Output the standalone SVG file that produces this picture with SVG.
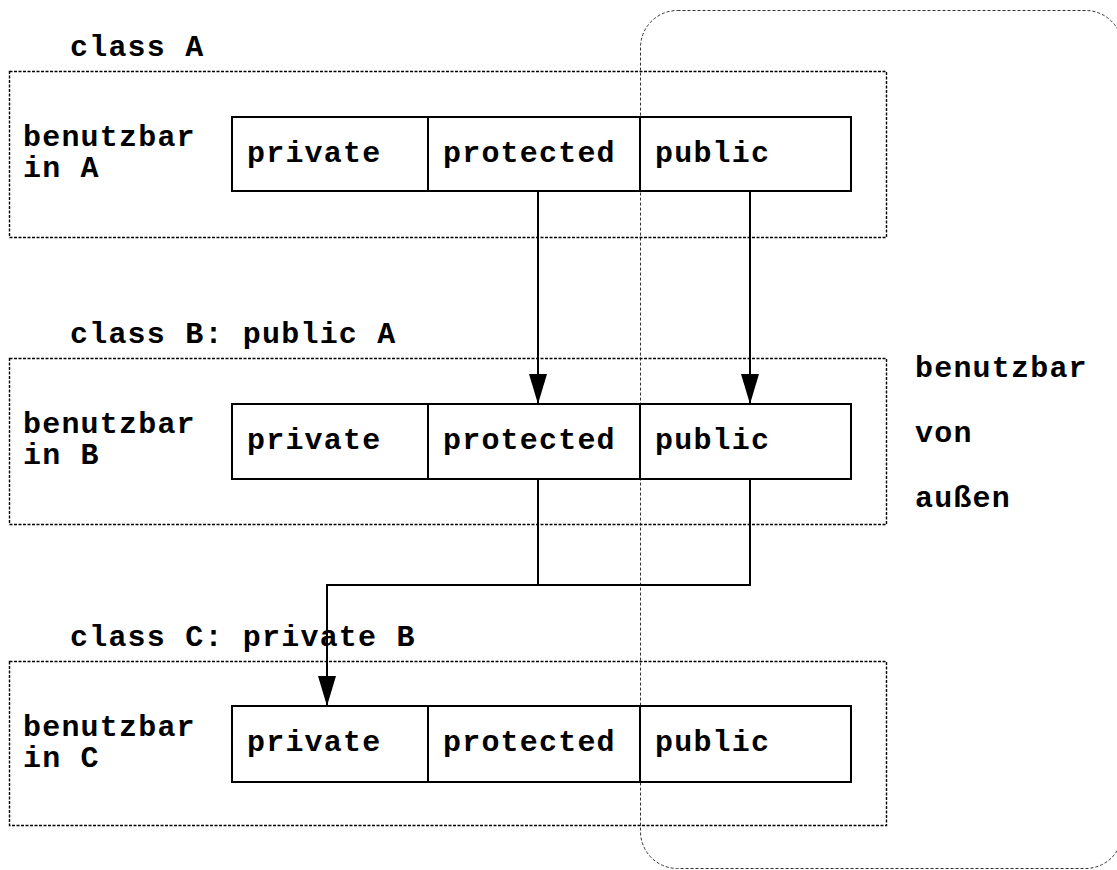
<svg xmlns="http://www.w3.org/2000/svg" width="1117" height="870" viewBox="0 0 1117 870">
  <style>
    text { font-family: "Liberation Mono", "Courier New", monospace; font-weight: bold; font-size: 30px; letter-spacing: 1.2px; fill: #000; }
    .scope { fill: none; stroke: #000; stroke-width: 1.4; stroke-dasharray: 3 1.5; }
    .outside { fill: none; stroke: #333; stroke-width: 1; stroke-dasharray: 3 2; }
    .cell { fill: none; stroke: #000; stroke-width: 2; }
    .wire { fill: none; stroke: #000; stroke-width: 2; }
  </style>
  <defs>
    <marker id="arrow" markerUnits="userSpaceOnUse" markerWidth="30" markerHeight="18" viewBox="0 0 30 18" refX="30" refY="9" orient="auto">
      <path d="M0,0 L30,9 L0,18 Z" fill="#000"/>
    </marker>
  </defs>

  <!-- region usable from outside -->
  <g id="outside">
    <rect class="outside" x="640.5" y="10.5" width="482" height="858" rx="37"/>
    <text x="915" y="377">benutzbar</text>
    <text x="915" y="442">von</text>
    <text x="915" y="507">außen</text>
  </g>

  <!-- class A -->
  <g id="classA">
    <text x="70" y="56">class A</text>
    <rect class="scope" x="9.5" y="71.5" width="877" height="166"/>
    <text x="23" y="146">benutzbar</text>
    <text x="23" y="177">in A</text>
    <rect class="cell" x="232" y="117" width="619" height="74"/>
    <line class="cell" x1="428" y1="117" x2="428" y2="191"/>
    <line class="cell" x1="640" y1="117" x2="640" y2="191"/>
    <text x="247" y="162">private</text>
    <text x="443" y="162">protected</text>
    <text x="655" y="162">public</text>
  </g>

  <!-- class B -->
  <g id="classB">
    <text x="70" y="343">class B: public A</text>
    <rect class="scope" x="9.5" y="358.5" width="877" height="166"/>
    <text x="23" y="433">benutzbar</text>
    <text x="23" y="464">in B</text>
    <rect class="cell" x="232" y="404" width="619" height="75"/>
    <line class="cell" x1="428" y1="404" x2="428" y2="479"/>
    <line class="cell" x1="640" y1="404" x2="640" y2="479"/>
    <text x="247" y="449">private</text>
    <text x="443" y="449">protected</text>
    <text x="655" y="449">public</text>
  </g>

  <!-- class C -->
  <g id="classC">
    <text x="70" y="646">class C: private B</text>
    <rect class="scope" x="9.5" y="661.5" width="877" height="164"/>
    <text x="23" y="736">benutzbar</text>
    <text x="23" y="767">in C</text>
    <rect class="cell" x="232" y="706" width="619" height="76"/>
    <line class="cell" x1="428" y1="706" x2="428" y2="782"/>
    <line class="cell" x1="640" y1="706" x2="640" y2="782"/>
    <text x="247" y="751">private</text>
    <text x="443" y="751">protected</text>
    <text x="655" y="751">public</text>
  </g>

  <!-- inheritance connectors -->
  <g id="connectors">
    <path class="wire" d="M538,191 V404" marker-end="url(#arrow)"/>
    <path class="wire" d="M750,191 V404" marker-end="url(#arrow)"/>
    <path class="wire" d="M538,479 V585 M750,479 V585 H327"/>
    <path class="wire" d="M327,584 V706" marker-end="url(#arrow)"/>
  </g>
</svg>
